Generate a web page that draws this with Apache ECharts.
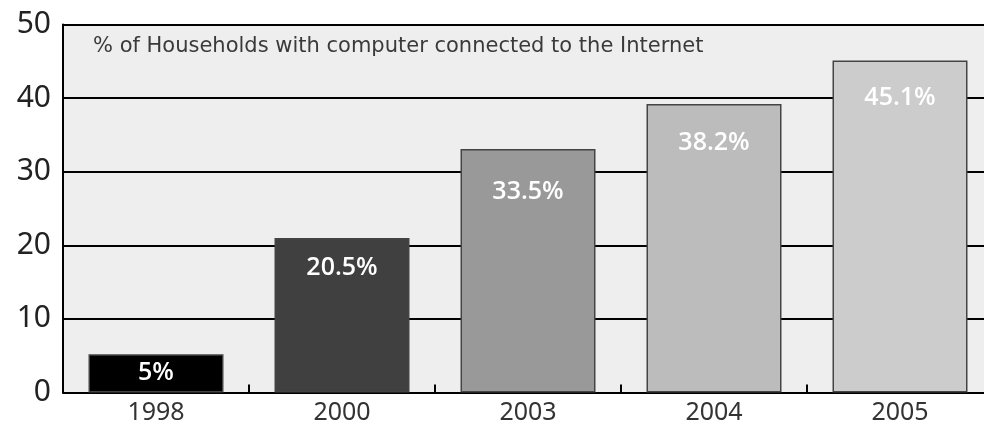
<!DOCTYPE html>
<html>
<head>
<meta charset="utf-8">
<title>Households with Internet</title>
<script src="https://cdn.jsdelivr.net/npm/echarts@6/dist/echarts.min.js"></script>
<style>
    html, body { margin: 0; padding: 0; background: #fff; }
    #main { width: 984px; height: 428px; }
</style>
</head>
<body>
<div id="main"></div>
<script>
// 数据
var years = ['1998', '2000', '2003', '2004', '2005'];
var barHeights = [5.2, 21, 33.1, 39.2, 45.1];
var barLabels = ['5%', '20.5%', '33.5%', '38.2%', '45.1%'];
var yTicks = [0, 10, 20, 30, 40, 50];

// 样式
var barColors = ['#000000', '#404040', '#999999', '#bcbcbc', '#cccccc'];
var labelDist = [6, 17, 30, 26, 25];

var myChart = echarts.init(document.getElementById('main'));

var seriesData = barHeights.map(function (v, i) {
    return {
        value: v,
        itemStyle: { color: barColors[i] },
        label: { formatter: barLabels[i], distance: labelDist[i] }
    };
});

var option = {
    animation: false,
    grid: {
        left: 63, top: 24.5, width: 930, height: 368,
        outerBoundsMode: 'none',
        show: true, backgroundColor: '#eeeeee', borderWidth: 0
    },
    graphic: [{
        type: 'text',
        left: 93, top: 36,
        style: {
            text: '% of Households with computer connected to the Internet',
            fill: '#3a3a3a', font: '21px "DejaVu Sans"'
        }
    }],
    xAxis: {
        type: 'category',
        data: years,
        axisLine: { lineStyle: { color: '#000', width: 2 } },
        axisTick: { show: true, inside: true, length: 8, lineStyle: { color: '#000', width: 2 } },
        axisLabel: { color: '#333', fontSize: 25, fontFamily: 'Noto Sans', margin: 8 }
    },
    yAxis: {
        type: 'value',
        min: yTicks[0], max: yTicks[yTicks.length - 1], interval: 10,
        axisLine: { show: true, lineStyle: { color: '#000', width: 2 } },
        axisTick: { show: false },
        splitLine: { lineStyle: { color: '#000', width: 2 } },
        axisLabel: { color: '#222', fontSize: 30, fontFamily: 'Noto Sans', margin: 12 }
    },
    series: [{
        type: 'bar',
        data: seriesData,
        barWidth: 135,
        itemStyle: { borderColor: '#444', borderWidth: 1.5 },
        label: {
            show: true, position: 'insideTop',
            color: '#fff', fontSize: 25, fontWeight: 600, fontFamily: 'Open Sans'
        }
    }]
};

myChart.setOption(option);
</script>
</body>
</html>
